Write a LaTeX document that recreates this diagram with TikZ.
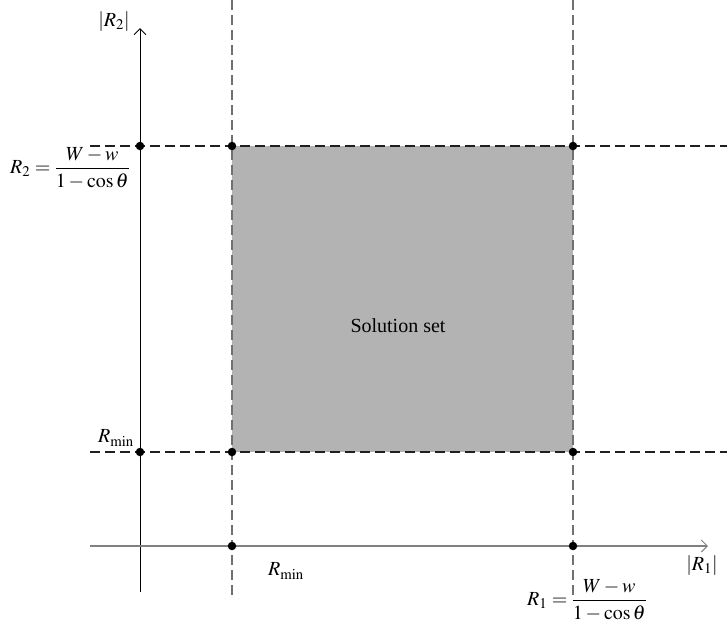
\documentclass[tikz,border=0pt]{standalone}
\usepackage{amsmath}
\usepackage{mathptmx}
\usepackage{fontspec}
\setmainfont{Liberation Serif}
\usetikzlibrary{arrows.meta}
\definecolor{setgray}{HTML}{B3B3B3}
\definecolor{vdash}{HTML}{707070}
\definecolor{hdash}{HTML}{202020}
\definecolor{xaxis}{HTML}{808080}
\tikzset{
  dot/.style={circle,fill=black,inner sep=0pt,minimum size=8.5pt},
  vguide/.style={draw=vdash,line width=1.3pt,dash pattern=on 9.5pt off 5.5pt},
  hguide/.style={draw=hdash,line width=1.3pt,dash pattern=on 9.5pt off 5.5pt},
  axisarrow/.style={-{Straight Barb[length=6pt,width=12pt,line width=1pt]}},
  lbl/.style={inner sep=0pt,font=\fontsize{20}{24}\selectfont}
}
\begin{document}
\begin{tikzpicture}[x=1pt,y=-1pt]
\useasboundingbox (0,0) rectangle (727,641);
% solution set
\fill[setgray] (232,146) rectangle (573,452);
\node[lbl] (sol) at (398,326) {Solution set};
% guide line end points
\coordinate (v1t) at (232,0);   \coordinate (v1b) at (232,597);
\coordinate (v2t) at (573,0);   \coordinate (v2b) at (573,597);
\coordinate (h1l) at (90,146);  \coordinate (h1r) at (727,146);
\coordinate (h2l) at (90,452);  \coordinate (h2r) at (727,452);
\draw[vguide] (v1t) -- (v1b);
\draw[vguide] (v2t) -- (v2b);
\draw[hguide] (h1l) -- (h1r);
\draw[hguide] (h2l) -- (h2r);
% axes
\coordinate (yb) at (140,592); \coordinate (yt) at (140,28);
\coordinate (xl) at (90,546);  \coordinate (xr) at (708,546);
\draw[black,line width=1pt,axisarrow] (yb) -- (yt);
\draw[xaxis,line width=1.4pt,axisarrow] (xl) -- (xr);
% dots
\node[dot] (d1) at (140,146) {};
\node[dot] (d2) at (232,146) {};
\node[dot] (d3) at (573,146) {};
\node[dot] (d4) at (140,452) {};
\node[dot] (d5) at (232,452) {};
\node[dot] (d6) at (573,452) {};
\node[dot] (d7) at (232,546) {};
\node[dot] (d8) at (573,546) {};
% labels
\node[lbl] (r2ax) at (114,22) {$|R_2|$};
\node[lbl,anchor=west] (r2eq) at (10,168) {$R_2=\dfrac{W-w}{1-\cos\theta}$};
\node[lbl] (rminl) at (116,438) {$R_{\min}$};
\node[lbl] (rminb) at (286,571) {$R_{\min}$};
\node[lbl] (r1ax) at (702,566) {$|R_1|$};
\node[lbl] (r1eq) at (587,600) {$R_1=\dfrac{W-w}{1-\cos\theta}$};
\end{tikzpicture}
\end{document}
